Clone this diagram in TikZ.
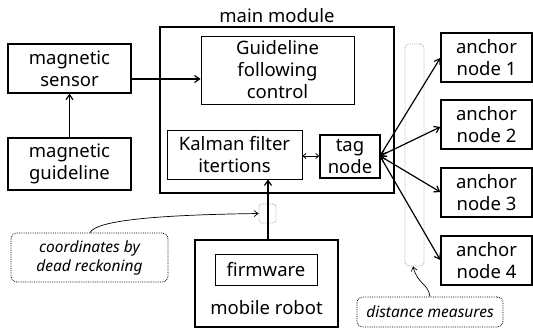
\documentclass[tikz,border=0pt]{standalone}
\usepackage{fontspec}
\setmainfont{Noto Sans}
\usetikzlibrary{arrows.meta}
\tikzset{
  box/.style={draw, line width=1.4pt, inner sep=0pt, align=center, font=\fontsize{18.5}{22}\selectfont},
  thinbox/.style={draw, line width=0.8pt, inner sep=0pt, align=center, font=\fontsize{18.5}{22}\selectfont},
  thickbox/.style={draw, line width=2.6pt, inner sep=0pt},
  note/.style={draw, densely dotted, line width=0.8pt, rounded corners=6pt, inner sep=0pt, align=center, font=\itshape\fontsize{15.5}{19}\selectfont},
  arr/.style={line width=1.2pt, -{Straight Barb[length=5pt,width=7pt]}},
  darr/.style={line width=1.2pt, {Straight Barb[length=5pt,width=7pt]}-{Straight Barb[length=5pt,width=7pt]}},
}
\begin{document}
\begin{tikzpicture}[x=1pt,y=-1pt]
\useasboundingbox (0,0) rectangle (533,331);
% left chain
\node[box, minimum width=123pt, minimum height=49pt] (sensor) at (69.5,68.5) {magnetic\\sensor};
\node[box, minimum width=123pt, minimum height=52pt] (guide) at (69.5,164) {magnetic\\guideline};
% main module
\node[thickbox, minimum width=234pt, minimum height=166pt] (main) at (277,110) {};
\node[font=\fontsize{18.5}{22}\selectfont, anchor=south] (mainlbl) at (277,26) {main module};
\node[thinbox, minimum width=153pt, minimum height=68pt] (follow) at (277.5,70) {Guideline\\following\\control};
\node[thinbox, minimum width=135pt, minimum height=49pt] (kalman) at (234.5,154.5) {Kalman filter\\itertions};
\node[box, minimum width=60pt, minimum height=43pt] (tag) at (350,156.5) {tag\\node};
% anchors
\node[box, minimum width=91pt, minimum height=49pt] (a1) at (486.5,57.5) {anchor\\node 1};
\node[box, minimum width=91pt, minimum height=49pt] (a2) at (486.5,124.5) {anchor\\node 2};
\node[box, minimum width=91pt, minimum height=49pt] (a3) at (486.5,192.5) {anchor\\node 3};
\node[box, minimum width=91pt, minimum height=49pt] (a4) at (486.5,260.5) {anchor\\node 4};
% mobile robot
\node[thickbox, minimum width=143pt, minimum height=87pt] (robot) at (266.5,283.5) {};
\node[thinbox, minimum width=102pt, minimum height=31pt] (fw) at (266,269.5) {firmware};
\node[font=\fontsize{18.5}{22}\selectfont] (robotlbl) at (266.5,308) {mobile robot};
% measurement markers
\node[draw=gray!70, densely dotted, line width=0.8pt, rounded corners=4pt, minimum width=19pt, minimum height=222pt, inner sep=0pt] (bar) at (414.5,155) {};
\node[draw=gray!70, densely dotted, line width=0.8pt, rounded corners=3pt, minimum width=17pt, minimum height=19pt, inner sep=0pt] (dr) at (267.5,213.5) {};
% notes
\node[note, minimum width=146pt, minimum height=30pt] (dist) at (430,312) {distance measures};
\node[note, minimum width=157pt, minimum height=49pt] (coord) at (89.5,257.5) {coordinates by\\dead reckoning};
% connectors
\draw[arr] (guide.north) -- (sensor.south);
\draw[arr] (sensor.east |- 0,79) -- (follow.west |- 0,79);
\draw[line width=0.8pt, {Straight Barb[length=3pt,width=5pt]}-{Straight Barb[length=3pt,width=5pt]}] (kalman.east |- 0,156) -- (tag.west |- 0,156);
\draw[arr] (robot.north -| 268,0) -- (kalman.south -| 268,0);
\coordinate (tp) at (380,156);
\draw[darr] (tp) -- (a1.west |- 0,58);
\draw[darr] (tp) -- (a2.west |- 0,127);
\draw[darr] (tp) -- (a3.west |- 0,192);
\draw[darr] (tp) -- (a4.west |- 0,260);
\draw[line width=0.7pt, -{Straight Barb[length=4pt,width=6pt]}] (coord.north -| 90,0) .. controls (96,221) and (150,215) .. (dr.west);
\draw[line width=0.7pt, -{Straight Barb[length=4pt,width=6pt]}] (dist.north -| 430,0) .. controls (428,283) and (418,285) .. (bar.south -| 413,0);
\end{tikzpicture}
\end{document}
